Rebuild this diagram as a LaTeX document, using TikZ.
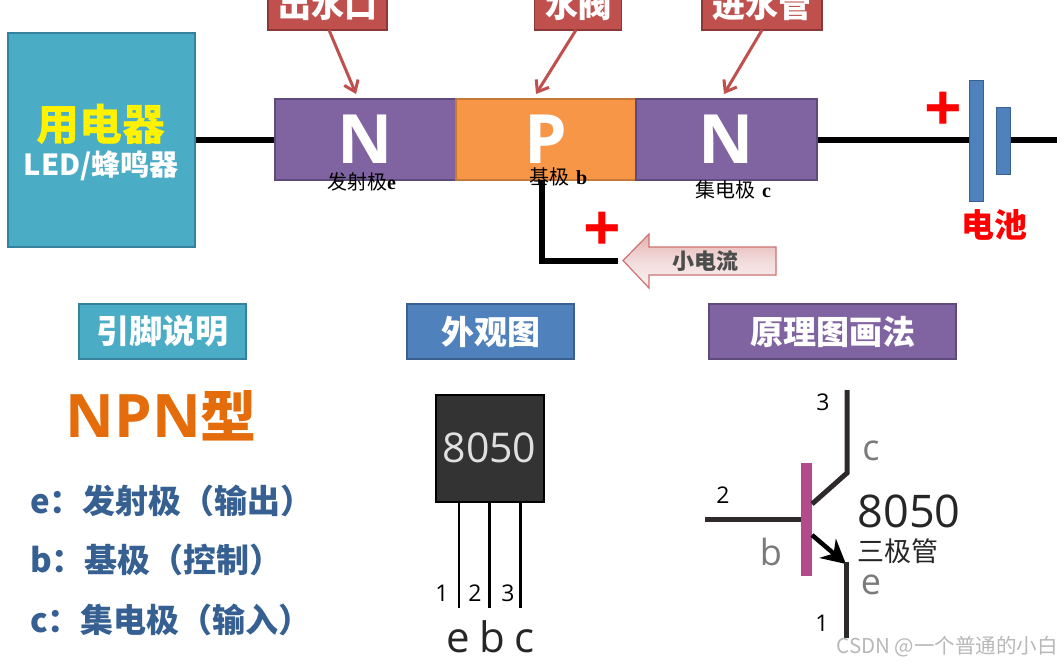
\documentclass[tikz,border=0pt]{standalone}
\usepackage{fontspec}
\setmainfont{Noto Sans CJK SC}
\newfontfamily\latinf{Open Sans}
\newfontfamily\serifl{Liberation Serif}
\usetikzlibrary{arrows.meta}
\definecolor{purp}{HTML}{8064A2}
\definecolor{purpd}{HTML}{5F4A7C}
\definecolor{orng}{HTML}{F79646}
\definecolor{teal1}{HTML}{4BACC6}
\definecolor{teald}{HTML}{35829A}
\definecolor{blue1}{HTML}{4F81BD}
\definecolor{blued}{HTML}{3A6090}
\definecolor{red1}{HTML}{C0504D}
\definecolor{redd}{HTML}{8C3836}
\definecolor{listc}{HTML}{366092}
\definecolor{npnc}{HTML}{E46C0A}
\definecolor{wire}{HTML}{2E2A2B}
\definecolor{labg}{HTML}{7A7A7A}
\definecolor{barc}{HTML}{B24A8C}
\newcommand{\fs}[1]{\fontsize{#1}{#1}\selectfont}
\tikzset{
  x=1pt,y=-1pt,
  box/.style={draw=#1,line width=1.2pt,inner sep=0pt,outer sep=0pt,text=white,font=\fs{33}\bfseries},
  callout/.style={box=redd,fill=red1,minimum height=50pt},
  header/.style={minimum height=55pt,font=\fs{33}\bfseries,text=white,line width=1.2pt,inner sep=0pt},
  seg/.style={line width=1.2pt,inner sep=0pt,text=white,minimum height=81pt,font=\latinf\fs{68}\bfseries},
  pointer/.style={draw=red1,line width=3pt,-{Straight Barb[length=10pt,width=15pt,line width=3pt]}},
  bwire/.style={draw=black,line width=6pt},
  lead/.style={draw=black,line width=2.4pt},
  sch/.style={draw=wire,line width=5pt},
  listt/.style={anchor=west,inner sep=0pt,text=listc,font=\fs{33}\bfseries},
  small/.style={inner sep=0pt,font=\fs{20}},
  num/.style={inner sep=0pt,text=black,font=\latinf\fs{23}},
  pinl/.style={inner sep=0pt,anchor=base,text=black!85,font=\latinf\fs{42}},
  schl/.style={inner sep=0pt,anchor=base,text=labg,font=\latinf\fs{36}},
  plus/.style={inner sep=0pt,text=red,font=\latinf\bfseries\fs{66}},
}
\begin{document}
\begin{tikzpicture}
\useasboundingbox (0,0) rectangle (1064,665);
\clip (0,0) rectangle (1064,665);
\fill[white] (0,0) rectangle (1064,665);

% callouts
\node[callout,minimum width=119pt] (out) at (327.5,5) {出水口};
\node[callout,minimum width=87pt] (valve) at (578,5) {水阀};
\node[callout,minimum width=120pt] (in) at (762,5) {进水管};

% NPN bar
\node[seg,draw=purpd,fill=purp,minimum width=181pt] (n1) at (365.5,139.5) {N};
\node[seg,draw=orng!80!black,fill=orng,minimum width=180pt] (p) at (546,139.5) {P};
\node[seg,draw=purpd,fill=purp,minimum width=181pt] (n2) at (726.5,139.5) {N};

\coordinate (t1) at (356,94);
\coordinate (t2) at (536,94);
\coordinate (t3) at (724,94);
\coordinate (s1) at (329,30);
\coordinate (s2) at (576,30);
\coordinate (s3) at (762,30);
\draw[pointer] (s1) -- (t1);
\draw[pointer] (s2) -- (t2);
\draw[pointer] (s3) -- (t3);

% load
\node[draw=teald,fill=teal1,line width=1.2pt,minimum width=187pt,minimum height=214pt,inner sep=0pt] (load) at (101.5,140) {};
\node[inner sep=0pt,text=yellow,font=\fs{43}\bfseries] (loadt) at (101,124) {用电器};
\node[inner sep=0pt,text=white,font=\fs{29}\bfseries] (loads) at (101,166) {LED/蜂鸣器};

% battery
\node[draw=blued,fill=blue1,line width=1pt,minimum width=14pt,minimum height=121pt,inner sep=0pt] (bat1) at (976.5,140.5) {};
\node[draw=blued,fill=blue1,line width=1pt,minimum width=14pt,minimum height=67pt,inner sep=0pt] (bat2) at (1003,140.5) {};
\coordinate (wr) at (1057,140);
\draw[bwire] (load.east |- 0,140) -- (n1.west |- 0,140);
\draw[bwire] (n2.east |- 0,140) -- (bat1.west |- 0,140);
\draw[bwire] (bat2.east |- 0,140) -- (wr);
\node[plus] (plus1) at (943,112) {+};
\node[inner sep=0pt,text=red,font=\fs{33}\bfseries] (batt) at (994,225) {电池};

% base wire and small current
\coordinate (bw1) at (542,180);
\coordinate (bw2) at (542,261);
\coordinate (bw3) at (618,261);
\draw[bwire,line join=miter] (bw1) -- (bw2) -- (bw3);
\node[plus] (plus2) at (602,232) {+};
\shade[draw=red1!80,line width=1.2pt,top color=red1!45,bottom color=red1!8,middle color=red1!20]
  (623,260.5) -- (649,234) -- (649,247) -- (776,247) -- (776,275) -- (649,275) -- (649,288) -- cycle;
\node[inner sep=0pt,text=black!70,font=\fs{22}\bfseries] (cur) at (705,261) {小电流};

% small labels
\node[small,anchor=west] (le) at (327,182) {发射极\serifl\bfseries e};
\node[small,anchor=west] (lb) at (529,177) {基极\hspace{7pt}\serifl\bfseries b};
\node[small,anchor=west] (lc) at (695,190) {集电极\hspace{7pt}\serifl\bfseries c};

% headers
\node[header,draw=teald,fill=teal1,minimum width=167pt] (h1) at (162.5,331.5) {引脚说明};
\node[header,draw=blued,fill=blue1,minimum width=167pt] (h2) at (490.5,331.5) {外观图};
\node[header,draw=purpd,fill=purp,minimum width=247pt] (h3) at (832.5,331.5) {原理图画法};

% left list
\node[inner sep=0pt,text=npnc,font=\latinf\bfseries\fs{60}] (npn) at (161,416) {NPN\hspace{-1pt}{\rmfamily\fs{56}型}};
\node[listt] (l1) at (30,501) {e：发射极（输出）};
\node[listt] (l2) at (30,560) {b：基极（控制）};
\node[listt] (l3) at (30,620) {c：集电极（输入）};

% package
\node[draw=black,fill=black!80,line width=2pt,minimum width=108pt,minimum height=107pt,inner sep=0pt,text=black!12,font=\latinf\fs{41}] (pkg) at (489.5,448) {\raisebox{-2pt}{8050}};
\coordinate (e1) at (459,608);
\coordinate (e2) at (489.5,608);
\coordinate (e3) at (520.5,608);
\draw[lead] (pkg.south -| e1) -- (e1);
\draw[lead] (pkg.south -| e2) -- (e2);
\draw[lead] (pkg.south -| e3) -- (e3);
\node[num] (n-1) at (442,593) {1};
\node[num] (n-2) at (475,593) {2};
\node[num] (n-3) at (508,593) {3};
\node[pinl] (pe) at (458,652) {e};
\node[pinl] (pb) at (492,652) {b};
\node[pinl] (pc) at (524,652) {c};

% schematic
\node[fill=barc,minimum width=11pt,minimum height=113pt,inner sep=0pt] (bar) at (806.5,519.5) {};
\coordinate (cb) at (812,504);
\coordinate (ck) at (847,473);
\coordinate (ct) at (847,390);
\coordinate (ee) at (846,564);
\coordinate (eb) at (812,535);
\coordinate (ed) at (846,638);
\coordinate (bl) at (705,519);
\draw[sch] (bl) -- (bar.west |- bl);
\draw[sch,line join=miter] (cb) -- (ck) -- (ct);
\draw[draw=black,line width=4.5pt,-{Stealth[length=24pt,width=25pt]}] (eb) -- (ee);
\draw[sch] (846,562) -- (ed);
\node[num] (s-3) at (823,402) {3};
\node[num] (s-2) at (723,495) {2};
\node[num] (s-1) at (822,623) {1};
\node[schl] (sc) at (871,460) {c};
\node[schl] (sb) at (771,565) {b};
\node[schl] (se) at (871,594) {e};
\node[inner sep=0pt,text=black!85,font=\latinf\fs{45}] (mod) at (909,511) {8050};
\node[inner sep=0pt,text=black!85,font=\fs{27}] (kind) at (898,551) {三极管};

% watermark
\node[inner sep=0pt,anchor=east,text=black!28,font=\fs{20.5}] (wm) at (1058,647) {CSDN @一个普通的小白};
\end{tikzpicture}
\end{document}
